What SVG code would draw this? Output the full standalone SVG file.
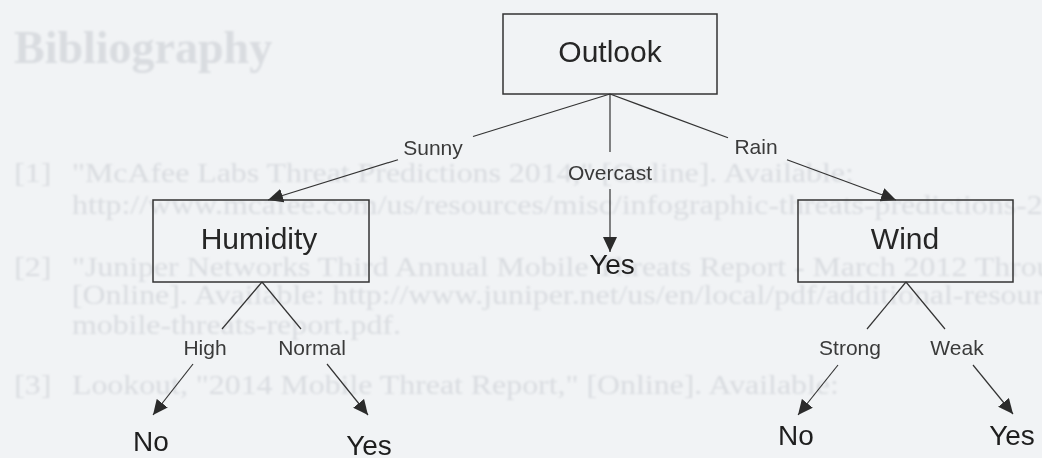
<svg xmlns="http://www.w3.org/2000/svg" width="1042" height="458" viewBox="0 0 1042 458">
  <defs>
    <marker id="arrow" markerUnits="userSpaceOnUse" markerWidth="15" markerHeight="14" refX="15" refY="7" orient="auto">
      <path d="M0,0 L15,7 L0,14 Z" fill="#2b2b2b"/>
    </marker>
    <filter id="soft" x="-5%" y="-20%" width="110%" height="140%">
      <feGaussianBlur stdDeviation="0.8"/>
    </filter>
    <style>
      .bg { fill: #f1f3f5; }
      .bleed { font-family: "Liberation Serif", serif; fill: #d9dce0; font-size: 27px; }
      .bleedh { font-family: "Liberation Serif", serif; fill: #d9dce0; font-size: 46px; font-weight: bold; }
      .box { fill: none; stroke: #333333; stroke-width: 1.5; }
      .node { font-family: "Liberation Sans", Arial, sans-serif; font-size: 30px; fill: #262626; text-anchor: middle; }
      .leaf { font-family: "Liberation Sans", Arial, sans-serif; font-size: 28px; fill: #1e1e1e; text-anchor: middle; }
      .lbl { font-family: "Liberation Sans", Arial, sans-serif; font-size: 21px; fill: #3a3a3a; text-anchor: middle; }
      .edge { stroke: #333333; stroke-width: 1.2; fill: none; }
    </style>
  </defs>

  <rect class="bg" x="0" y="0" width="1042" height="458"/>

  <g id="bleed-through" filter="url(#soft)">
    <text class="bleedh" x="14" y="63">Bibliography</text>
    <g transform="scale(1.18 1)">
      <text class="bleed" x="12" y="182">[1]</text>
      <text class="bleed" x="61" y="182">"McAfee Labs Threat Predictions 2014," [Online]. Available:</text>
      <text class="bleed" x="61" y="214">http://www.mcafee.com/us/resources/misc/infographic-threats-predictions-2014</text>
      <text class="bleed" x="12" y="276">[2]</text>
      <text class="bleed" x="61" y="276">"Juniper Networks Third Annual Mobile Threats Report - March 2012 Through</text>
      <text class="bleed" x="61" y="304">[Online]. Available: http://www.juniper.net/us/en/local/pdf/additional-resources</text>
      <text class="bleed" x="61" y="334">mobile-threats-report.pdf.</text>
      <text class="bleed" x="12" y="394">[3]</text>
      <text class="bleed" x="61" y="394">Lookout, "2014 Mobile Threat Report," [Online]. Available:</text>
    </g>
  </g>

  <g id="connectors">
    <!-- Outlook -> Humidity (Sunny) -->
    <line class="edge" x1="610" y1="94" x2="473" y2="136.5"/>
    <line class="edge" x1="398" y1="159.7" x2="268" y2="200" marker-end="url(#arrow)"/>
    <!-- Outlook -> Yes (Overcast) -->
    <line class="edge" x1="610" y1="94" x2="610" y2="152"/>
    <line class="edge" x1="610" y1="189" x2="610" y2="252" marker-end="url(#arrow)"/>
    <!-- Outlook -> Wind (Rain) -->
    <line class="edge" x1="610" y1="94" x2="728" y2="137.8"/>
    <line class="edge" x1="787" y1="159.7" x2="896" y2="200" marker-end="url(#arrow)"/>
    <!-- Humidity -> No (High) -->
    <line class="edge" x1="262" y1="282" x2="222" y2="329"/>
    <line class="edge" x1="193" y1="364" x2="153" y2="415" marker-end="url(#arrow)"/>
    <!-- Humidity -> Yes (Normal) -->
    <line class="edge" x1="262" y1="282" x2="301" y2="329"/>
    <line class="edge" x1="327" y1="364" x2="368" y2="415" marker-end="url(#arrow)"/>
    <!-- Wind -> No (Strong) -->
    <line class="edge" x1="906" y1="282" x2="867" y2="329"/>
    <line class="edge" x1="838" y1="365" x2="798" y2="415" marker-end="url(#arrow)"/>
    <!-- Wind -> Yes (Weak) -->
    <line class="edge" x1="906" y1="282" x2="945" y2="329"/>
    <line class="edge" x1="973" y1="365" x2="1013" y2="414" marker-end="url(#arrow)"/>

    <text class="lbl" x="433" y="155">Sunny</text>
    <text class="lbl" x="610" y="180">Overcast</text>
    <text class="lbl" x="756" y="154">Rain</text>
    <text class="lbl" x="205" y="355">High</text>
    <text class="lbl" x="312" y="355">Normal</text>
    <text class="lbl" x="850" y="355">Strong</text>
    <text class="lbl" x="957" y="355">Weak</text>
  </g>

  <g id="node-outlook">
    <rect class="box" x="503" y="14" width="214" height="80"/>
    <text class="node" x="610" y="62">Outlook</text>
  </g>
  <g id="node-humidity">
    <rect class="box" x="153" y="200" width="216" height="82"/>
    <text class="node" x="259" y="249">Humidity</text>
  </g>
  <g id="node-wind">
    <rect class="box" x="798" y="200" width="215" height="82"/>
    <text class="node" x="905" y="249">Wind</text>
  </g>
  <g id="leaf-yes-overcast">
    <text class="leaf" x="612" y="274">Yes</text>
  </g>
  <g id="leaf-no-high">
    <text class="leaf" x="151" y="451">No</text>
  </g>
  <g id="leaf-yes-normal">
    <text class="leaf" x="369" y="455">Yes</text>
  </g>
  <g id="leaf-no-strong">
    <text class="leaf" x="796" y="445">No</text>
  </g>
  <g id="leaf-yes-weak">
    <text class="leaf" x="1012" y="445">Yes</text>
  </g>
</svg>
